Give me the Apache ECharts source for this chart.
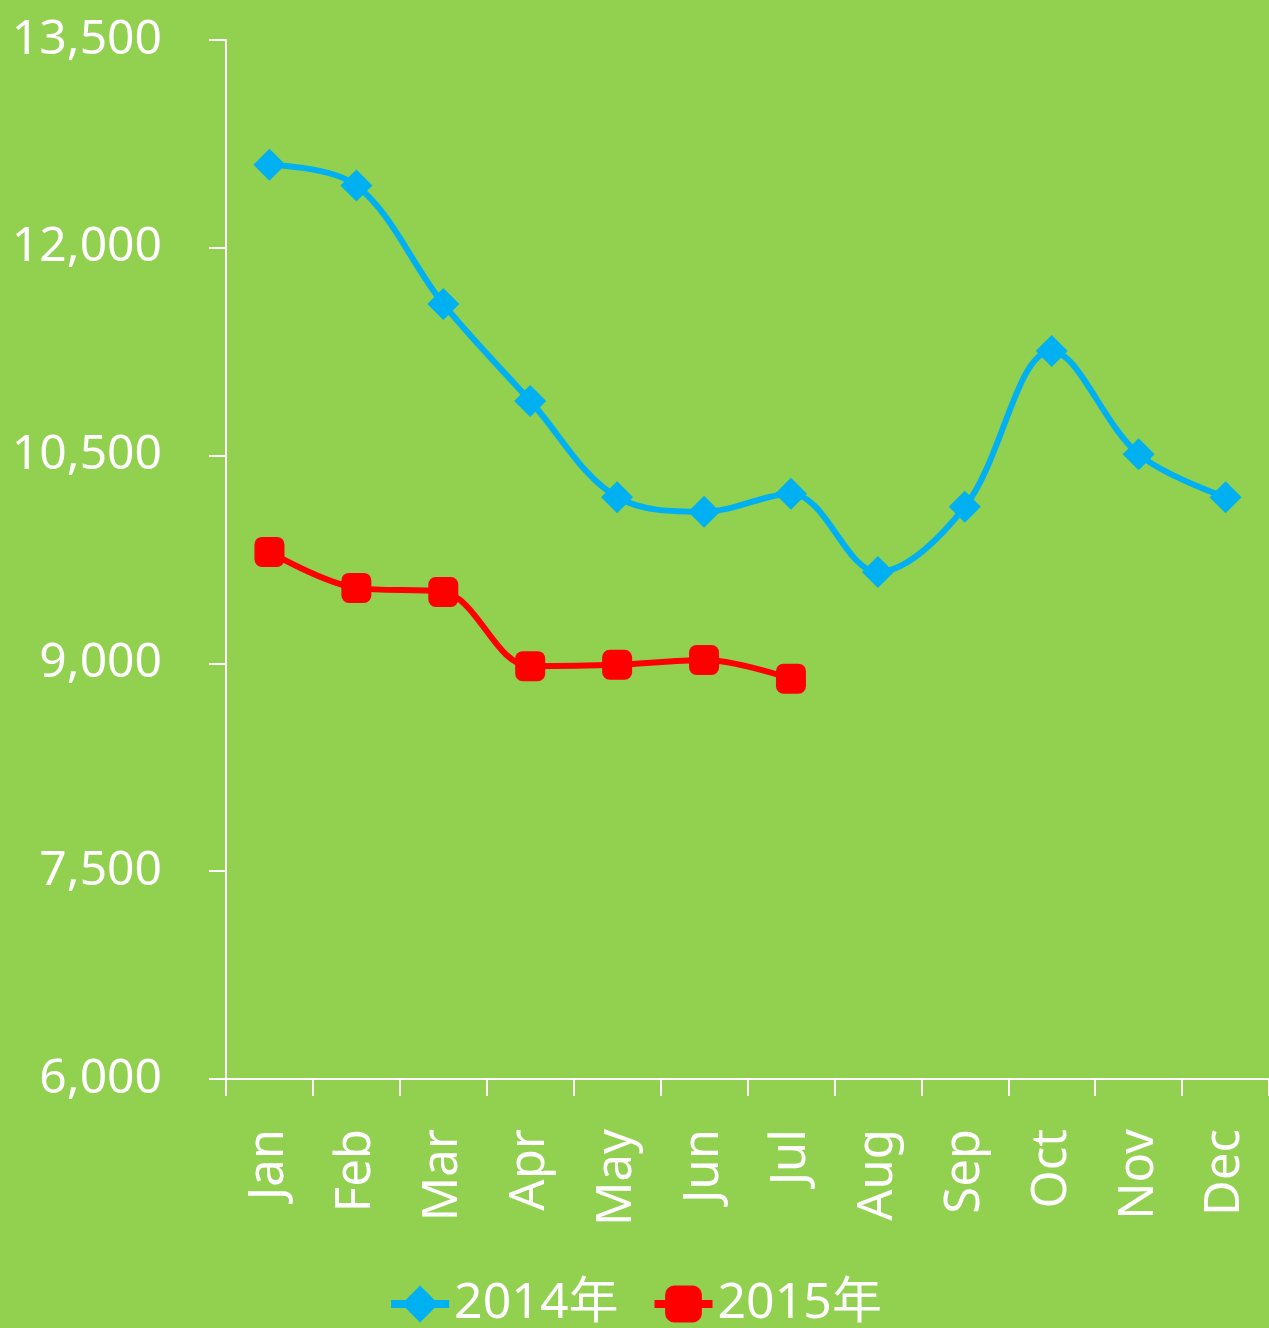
<!DOCTYPE html>
<html lang="zh">
<head>
<meta charset="UTF-8">
<title>2014-2015</title>
<script src="https://cdn.jsdelivr.net/npm/echarts@6/dist/echarts.min.js"></script>
<style>
html,body{margin:0;padding:0;background:#92D050;}
#main{width:1269px;height:1328px;}
</style>
</head>
<body>
<div id="main"></div>
<script>
var months = ['Jan','Feb','Mar','Apr','May','Jun','Jul','Aug','Sep','Oct','Nov','Dec'];
var data2014 = [12600, 12450, 11595, 10895, 10200, 10095, 10225, 9660, 10130, 11255, 10510, 10200];
var data2015 = [9805, 9545, 9515, 8980, 8990, 9025, 8890];
var seriesNames = ['2014年', '2015年'];

var font = '"Noto Sans", "Noto Sans CJK SC", sans-serif';
var chart = echarts.init(document.getElementById('main'));
chart.setOption({
    backgroundColor: '#92D050',
    animation: false,
    textStyle: { fontFamily: font },
    grid: { left: 226, right: -3, top: 40, bottom: 249 },
    legend: {
        bottom: -6,
        left: 'center',
        itemWidth: 58,
        itemHeight: 46,
        itemGap: 32,
        lineStyle: { width: 8 },
        textStyle: { color: '#fff', fontSize: 50, fontFamily: font },
        data: seriesNames
    },
    xAxis: {
        type: 'category',
        data: months,
        boundaryGap: true,
        axisLine: { lineStyle: { color: '#fff', width: 2 } },
        axisTick: { show: true, length: 17, lineStyle: { color: '#fff', width: 2 } },
        axisLabel: { color: '#fff', fontSize: 49, rotate: 90, margin: 50, fontFamily: font }
    },
    yAxis: {
        type: 'value',
        min: 6000,
        max: 13500,
        interval: 1500,
        splitLine: { show: false },
        axisLine: { show: true, lineStyle: { color: '#fff', width: 2 } },
        axisTick: { show: true, length: 17, lineStyle: { color: '#fff', width: 2 } },
        axisLabel: {
            color: '#fff', fontSize: 48, margin: 64, fontFamily: font,
            formatter: function (v) { return v.toLocaleString('en-US'); }
        }
    },
    series: [
        {
            name: seriesNames[0],
            type: 'line',
            smooth: 0.35,
            data: data2014,
            symbol: 'diamond',
            symbolSize: 32,
            itemStyle: { color: '#00B0F0' },
            lineStyle: { color: '#00B0F0', width: 6 }
        },
        {
            name: seriesNames[1],
            type: 'line',
            smooth: 0.35,
            data: data2015,
            symbol: 'roundRect',
            symbolSize: 30,
            itemStyle: { color: '#FF0000' },
            lineStyle: { color: '#FF0000', width: 6 }
        }
    ]
});
</script>
</body>
</html>
